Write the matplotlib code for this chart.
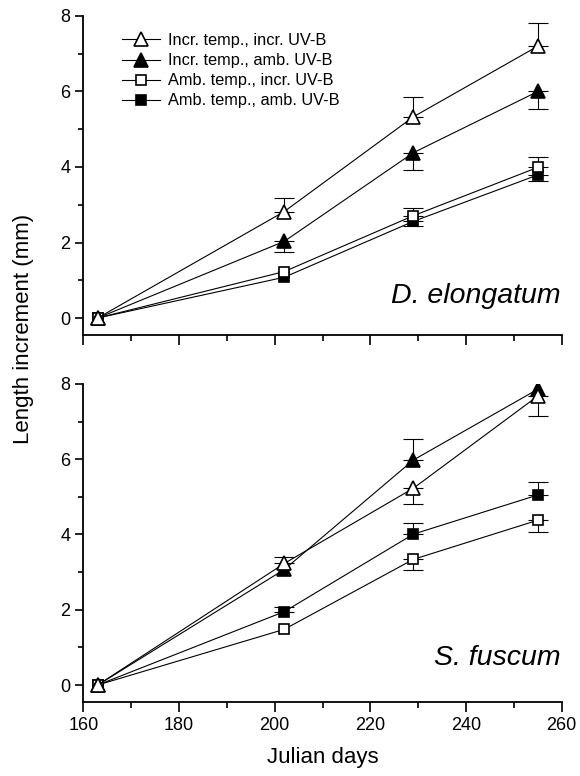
import numpy as np
import matplotlib
matplotlib.use('Agg')
import matplotlib.pyplot as plt
from matplotlib.ticker import MultipleLocator

plt.rcParams['font.family'] = ['Liberation Sans', 'DejaVu Sans']

days = [163, 202, 229, 255]

labels = ['Incr. temp., incr. UV-B', 'Incr. temp., amb. UV-B',
          'Amb. temp., incr. UV-B', 'Amb. temp., amb. UV-B']

# D. elongatum
de_itiu = [0, 2.82, 5.33, 7.20]
de_itau = [0, 2.03, 4.38, 6.00]
de_atiu = [0, 1.23, 2.71, 3.99]
de_ataa = [0, 1.08, 2.56, 3.79]
de_err_lo = [[0, 0, 0, 0], [0, 0.28, 0.46, 0.46], [0, 0, 0, 0], [0, 0, 0.13, 0.17]]
de_err_hi = [[0, 0.35, 0.52, 0.62], [0, 0, 0, 0], [0, 0, 0.20, 0.27], [0, 0, 0, 0]]

# S. fuscum
sf_itiu = [0, 3.23, 5.23, 7.68]
sf_itau = [0, 3.07, 5.98, 7.86]
sf_atiu = [0, 1.48, 3.34, 4.38]
sf_ataa = [0, 1.95, 4.01, 5.05]
sf_err_lo = [[0, 0, 0.43, 0.53], [0, 0, 0, 0], [0, 0, 0.28, 0.31], [0, 0, 0, 0]]
sf_err_hi = [[0, 0.18, 0, 0], [0, 0, 0.55, 0], [0, 0, 0, 0], [0, 0.13, 0.30, 0.35]]

markers = ['^', '^', 's', 's']
faces = ['white', 'black', 'white', 'black']
msizes = [9.5, 9.5, 7.3, 7.3]


def draw(ax, series, err_lo, err_hi, name, name_y):
    handles = []
    x = np.array(days)
    for i in range(4):
        y = np.array(series[i])
        lo = np.array(err_lo[i])
        hi = np.array(err_hi[i])
        keep = (lo + hi) > 0
        ax.errorbar(x[keep], y[keep], yerr=[lo[keep], hi[keep]], fmt='none',
                    ecolor='black', elinewidth=0.8, capsize=7, capthick=0.8, zorder=2)
        # first series ends up on top, as in the original
        h, = ax.plot(x, y, color='black', lw=0.8, marker=markers[i],
                     ms=msizes[i], mfc=faces[i], mec='black', mew=1.2, zorder=4 - 0.1 * i)
        handles.append(h)
    ax.set_xlim(160, 260)
    ax.set_ylim(-0.45, 8)
    ax.xaxis.set_major_locator(MultipleLocator(20))
    ax.xaxis.set_minor_locator(MultipleLocator(10))
    ax.yaxis.set_major_locator(MultipleLocator(2))
    ax.yaxis.set_minor_locator(MultipleLocator(1))
    ax.spines['top'].set_visible(False)
    ax.spines['right'].set_visible(False)
    for s in ['left', 'bottom']:
        ax.spines[s].set_linewidth(1.3)
    ax.tick_params(axis='x', which='major', length=7, width=1.2, labelsize=13, pad=4)
    ax.tick_params(axis='x', which='minor', length=4, width=1.2)
    ax.tick_params(axis='y', which='major', length=6, width=1.2, labelsize=13, pad=3.5)
    ax.tick_params(axis='y', which='minor', length=3.5, width=1.2)
    ax.text(259.8, name_y, name, style='italic', fontsize=20.5, ha='right', va='baseline')
    return handles


fig = plt.figure(figsize=(5.8, 7.76), dpi=100)
ax1 = fig.add_axes([0.1437, 0.5683, 0.8248, 0.4111])
ax2 = fig.add_axes([0.1437, 0.0954, 0.8248, 0.4098])

hs = draw(ax1, [de_itiu, de_itau, de_atiu, de_ataa], de_err_lo, de_err_hi, 'D. elongatum', 0.40)
draw(ax2, [sf_itiu, sf_itau, sf_atiu, sf_ataa], sf_err_lo, sf_err_hi, 'S. fuscum', 0.53)

ax1.tick_params(axis='x', labelbottom=False)
ax1.legend(hs, labels, loc='upper left', bbox_to_anchor=(0.081, 0.946), frameon=False,
           fontsize=11.8, numpoints=1, handlelength=2.3, handletextpad=0.5,
           labelspacing=0.31, borderpad=0, borderaxespad=0)

ax2.set_xlabel('Julian days', fontsize=16, labelpad=9)
fig.text(0.040, 1 - 329 / 776, 'Length increment (mm)', rotation=90, fontsize=16,
         ha='center', va='center')

fig.savefig('out.png', dpi=100)
